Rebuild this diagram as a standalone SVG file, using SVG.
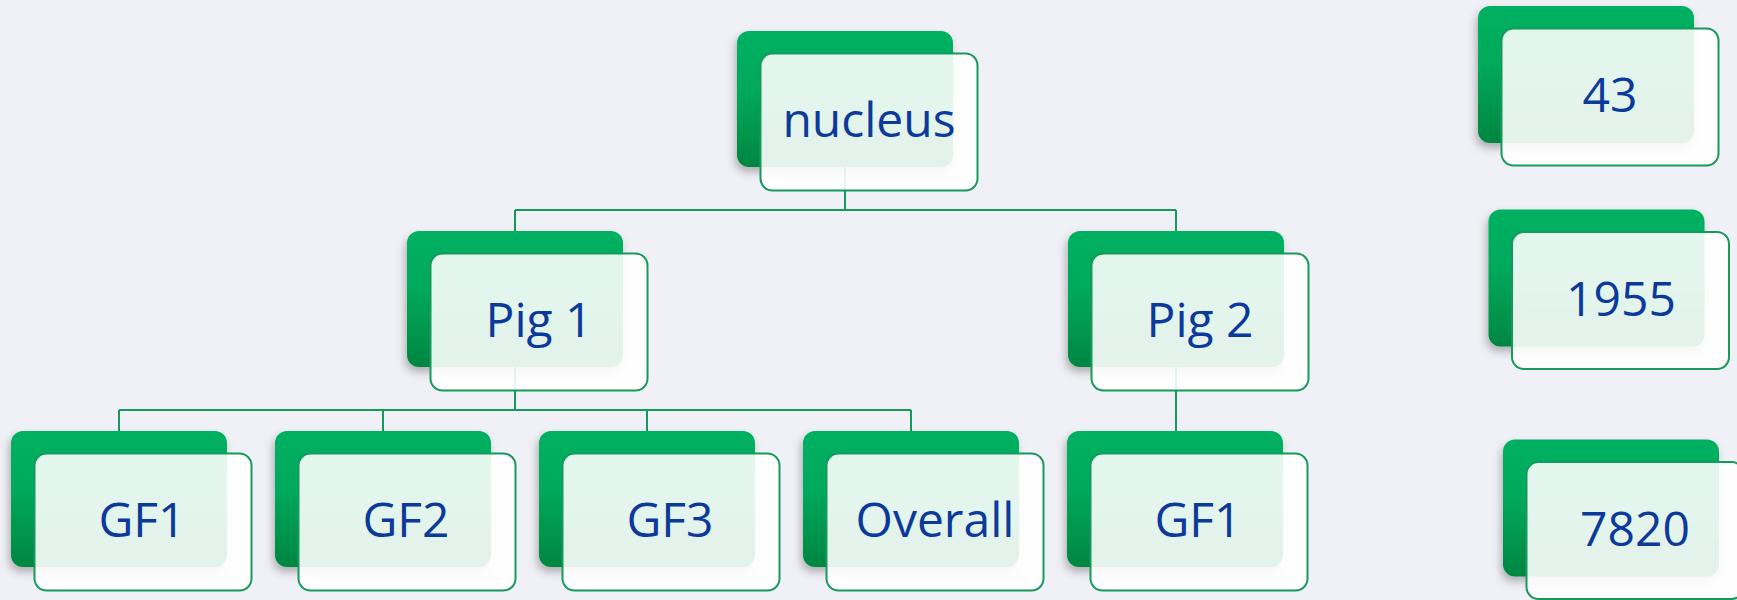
<svg xmlns="http://www.w3.org/2000/svg" width="1737" height="600" viewBox="0 0 1737 600">
<defs>
<linearGradient id="g" x1="0" y1="0" x2="0" y2="1">
<stop offset="0" stop-color="#00b162"/>
<stop offset="0.45" stop-color="#00a85a"/>
<stop offset="1" stop-color="#008641"/>
</linearGradient>
<filter id="sh" x="-20%" y="-20%" width="140%" height="150%">
<feDropShadow dx="-2" dy="5" stdDeviation="4" flood-color="#000" flood-opacity="0.28"/>
</filter>
</defs>
<style>
.back{fill:url(#g);filter:url(#sh)}
.card{fill:#ffffff;fill-opacity:0.89;stroke:#16995a;stroke-width:2}
.lbl{font-family:"Open Sans","DejaVu Sans",sans-serif;font-size:48px;font-weight:500;fill:#0c3a9b;text-anchor:middle}
.con{fill:none;stroke:#16995a;stroke-width:2}
</style>
<rect width="1737" height="600" fill="#eff1f6"/>
<g id="connectors">
<path class="con" d="M845,100 V210 M515,210 H1176 M515,210 V300 M1176,210 V300"/>
<path class="con" d="M515,300 V410 M119,410 H911 M119,410 V500 M383,410 V500 M647,410 V500 M911,410 V500"/>
<path class="con" d="M1176,300 V500"/>
</g>
<g id="nucleus">
<rect class="back" x="737" y="31" width="216" height="136" rx="12"/>
<rect class="card" x="760.5" y="53.5" width="217" height="137" rx="12"/>
<text class="lbl" x="869" y="137">nucleus</text>
</g>
<g id="pig1">
<rect class="back" x="407" y="231" width="216" height="136" rx="12"/>
<rect class="card" x="430.5" y="253.5" width="217" height="137" rx="12"/>
<text class="lbl" x="539" y="337">Pig 1</text>
</g>
<g id="pig2">
<rect class="back" x="1068" y="231" width="216" height="136" rx="12"/>
<rect class="card" x="1091.5" y="253.5" width="217" height="137" rx="12"/>
<text class="lbl" x="1200" y="337">Pig 2</text>
</g>
<g id="gf1-pig1">
<rect class="back" x="11" y="431" width="216" height="136" rx="12"/>
<rect class="card" x="34.5" y="453.5" width="217" height="137" rx="12"/>
<text class="lbl" x="142" y="537">GF1</text>
</g>
<g id="gf2-pig1">
<rect class="back" x="275" y="431" width="216" height="136" rx="12"/>
<rect class="card" x="298.5" y="453.5" width="217" height="137" rx="12"/>
<text class="lbl" x="406" y="537">GF2</text>
</g>
<g id="gf3-pig1">
<rect class="back" x="539" y="431" width="216" height="136" rx="12"/>
<rect class="card" x="562.5" y="453.5" width="217" height="137" rx="12"/>
<text class="lbl" x="670" y="537">GF3</text>
</g>
<g id="overall-pig1">
<rect class="back" x="803" y="431" width="216" height="136" rx="12"/>
<rect class="card" x="826.5" y="453.5" width="217" height="137" rx="12"/>
<text class="lbl" x="935" y="537">Overall</text>
</g>
<g id="gf1-pig2">
<rect class="back" x="1067" y="431" width="216" height="136" rx="12"/>
<rect class="card" x="1090.5" y="453.5" width="217" height="137" rx="12"/>
<text class="lbl" x="1198" y="537">GF1</text>
</g>
<g id="n43">
<rect class="back" x="1478" y="6" width="216" height="137" rx="12"/>
<rect class="card" x="1501.5" y="28.5" width="217" height="137" rx="12"/>
<text class="lbl" x="1610" y="112">43</text>
</g>
<g id="n1955">
<rect class="back" x="1488.5" y="209.5" width="216" height="137" rx="12"/>
<rect class="card" x="1512" y="232" width="217" height="137" rx="12"/>
<text class="lbl" x="1621" y="316">1955</text>
</g>
<g id="n7820">
<rect class="back" x="1503" y="439.5" width="216" height="137" rx="12"/>
<rect class="card" x="1526.5" y="462" width="217" height="137" rx="12"/>
<text class="lbl" x="1635" y="546">7820</text>
</g>
</svg>
